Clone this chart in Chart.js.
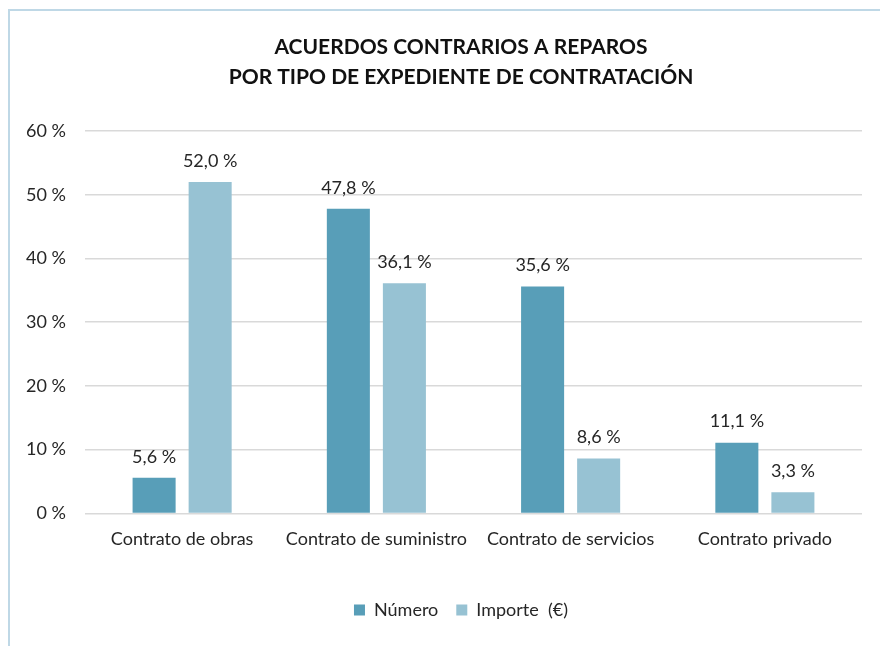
<!DOCTYPE html>
<html><head><meta charset="utf-8">
<script src="https://cdn.jsdelivr.net/npm/chart.js@4"></script>
<style>html,body{margin:0;padding:0;background:#fff}#wrap{position:absolute;left:0;top:0;width:880px;height:646px}</style>
</head><body><div id="wrap"><canvas id="c" width="880" height="646"></canvas></div>
<script>
const categories = ["Contrato de obras", "Contrato de suministro", "Contrato de servicios", "Contrato privado"];
const numero = [5.6, 47.8, 35.6, 11.1];
const importe = [52.0, 36.1, 8.6, 3.3];
const seriesNames = ["Número", "Importe  (€)"];
const titleLines = ["ACUERDOS CONTRARIOS A REPAROS", "POR TIPO DE EXPEDIENTE DE CONTRATACIÓN"];
const yTicks = [0, 10, 20, 30, 40, 50, 60];

const FONT = "Lato, 'Open Sans', sans-serif";
const fmt = v => v.toFixed(1).replace('.', ',') + ' %';

const frame = {
  id: 'frame',
  beforeDraw(chart) {
    const ctx = chart.ctx;
    ctx.save();
    ctx.strokeStyle = '#BFD8E6';
    ctx.lineWidth = 2;
    ctx.beginPath();
    ctx.moveTo(9, 646); ctx.lineTo(9, 10); ctx.lineTo(880, 10);
    ctx.stroke();
    ctx.restore();
  }
};
// The original chart is wider than the cropped picture: centre title and legend on it
const recentre = {
  id: 'recentre',
  afterLayout(chart) {
    const dx = 17.5;
    [chart.titleBlock, chart.legend].forEach(b => { if (b) { b.left += dx; b.right += dx; } });
  }
};
const labels = {
  id: 'labels',
  afterDatasetsDraw(chart) {
    const ctx = chart.ctx;
    ctx.save();
    ctx.font = '18px ' + FONT;
    ctx.fillStyle = '#262626';
    ctx.textAlign = 'center';
    ctx.textBaseline = 'middle';
    chart.data.datasets.forEach((ds, i) => {
      chart.getDatasetMeta(i).data.forEach((bar, j) => {
        ctx.fillText(fmt(ds.data[j]), bar.x, bar.y - 21);
      });
    });
    ctx.restore();
  }
};

new Chart(document.getElementById('c'), {
  type: 'bar',
  data: {
    labels: categories,
    datasets: [
      { label: seriesNames[0], data: numero, backgroundColor: '#589EB8' },
      { label: seriesNames[1], data: importe, backgroundColor: '#97C2D3' }
    ]
  },
  options: {
    responsive: false,
    animation: false,
    devicePixelRatio: 1,
    layout: { padding: { left: 25, right: 18, top: 20, bottom: 17 } },
    categoryPercentage: 0.577,
    barPercentage: 0.768,
    plugins: {
      title: {
        display: true,
        text: titleLines,
        color: '#111',
        font: { family: FONT, size: 21, weight: 'bold', lineHeight: 30 / 21 },
        padding: { top: 12, bottom: 39 }
      },
      legend: {
        position: 'bottom',
        labels: {
          color: '#262626',
          font: { family: FONT, size: 18 },
          boxWidth: 11, boxHeight: 11, padding: 18
        }
      },
      tooltip: { enabled: false }
    },
    scales: {
      x: {
        grid: { display: false, drawTicks: false },
        border: { display: false },
        ticks: { color: '#262626', font: { family: FONT, size: 18 }, padding: 15 },
        afterFit: s => { s.height += 18; }
      },
      y: {
        min: 0, max: 60,
        afterBuildTicks: s => { s.ticks = yTicks.map(v => ({ value: v })); },
        afterFit: s => { s.width = 60; },
        ticks: { color: '#262626', font: { family: FONT, size: 18 }, padding: 19,
          callback: v => v + ' %' },
        grid: { color: '#D9D9D9', lineWidth: 1.5, drawTicks: false },
        border: { display: false }
      }
    }
  },
  plugins: [frame, recentre, labels]
});
</script></body></html>
